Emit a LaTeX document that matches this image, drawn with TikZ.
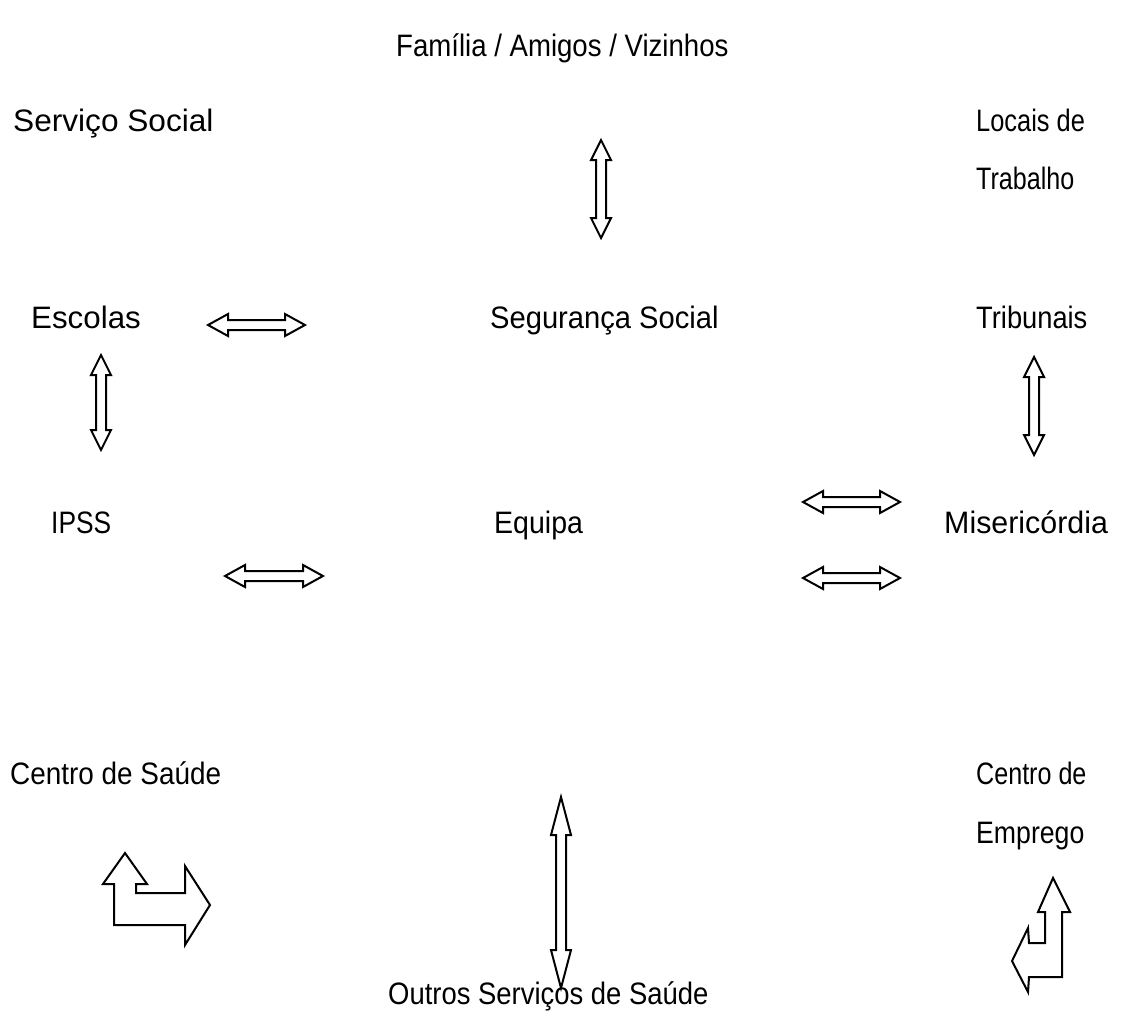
\documentclass[tikz,border=0pt]{standalone}
\usepackage{fontspec}
\setmainfont{Liberation Sans}
\usepackage{tikz}

% text squeezed sideways as in the scan
\newcommand{\squeezed}[2]{\scalebox{#1}[1]{#2}}

% block arrows: \dblarrowh{x1}{x2}{y}, \dblarrowv{x}{y1}{y2}{head}
\newcommand{\dblarrowh}[3]{%
  \draw[blockarrow] (#1,#3) -- (#1+20,#3-11) -- (#1+20,#3-5) -- (#2-20,#3-5) -- (#2-20,#3-11)
    -- (#2,#3) -- (#2-20,#3+11) -- (#2-20,#3+5) -- (#1+20,#3+5) -- (#1+20,#3+11) -- cycle;}
\newcommand{\dblarrowv}[4]{%
  \draw[blockarrow] (#1,#2) -- (#1-10,#2+#4) -- (#1-5,#2+#4) -- (#1-5,#3-#4) -- (#1-10,#3-#4)
    -- (#1,#3) -- (#1+10,#3-#4) -- (#1+5,#3-#4) -- (#1+5,#2+#4) -- (#1+10,#2+#4) -- cycle;}

\begin{document}
\begin{tikzpicture}[x=1pt,y=-1pt,
    txt/.style={anchor=base west, inner sep=0pt, font=\fontsize{31}{31}\selectfont},
    blockarrow/.style={line width=2pt, line join=miter}]
  \useasboundingbox (0,0) rectangle (1126,1018);

  % Labels
  \node[txt] (familia) at (396,56) {\squeezed{0.89}{Família / Amigos / Vizinhos}};
  \node[txt] (servico) at (13,131) {\squeezed{1.02}{Serviço Social}};
  \node[txt] (locais) at (976,131) {\squeezed{0.82}{Locais de}};
  \node[txt] (trabalho) at (976,189) {\squeezed{0.81}{Trabalho}};
  \node[txt] (escolas) at (31,328) {\squeezed{1.01}{Escolas}};
  \node[txt] (seguranca) at (490,328) {\squeezed{0.94}{Segurança Social}};
  \node[txt] (tribunais) at (976,328) {\squeezed{0.88}{Tribunais}};
  \node[txt] (ipss) at (51,533) {\squeezed{0.85}{IPSS}};
  \node[txt] (equipa) at (494,533) {\squeezed{0.92}{Equipa}};
  \node[txt] (misericordia) at (944,533) {\squeezed{0.98}{Misericórdia}};
  \node[txt] (saude) at (10,784) {\squeezed{0.9}{Centro de Saúde}};
  \node[txt] (centro) at (976,784) {\squeezed{0.81}{Centro de}};
  \node[txt] (emprego) at (976,843) {\squeezed{0.86}{Emprego}};
  \node[txt] (outros) at (388,1004) {\squeezed{0.885}{Outros Serviços de Saúde}};

  % Double arrows
  \dblarrowv{601}{140}{238}{20}
  \dblarrowh{208}{305}{325}
  \dblarrowv{101}{355}{450}{20}
  \dblarrowv{1034}{357}{455}{20}
  \dblarrowh{803}{900}{502}
  \dblarrowh{803}{900}{578}
  \dblarrowh{225}{323}{576}
  \dblarrowv{561}{797}{988}{38}

  % Bent arrow (Centro de Saude)
  \draw[blockarrow] (125,853) -- (147,884) -- (136,884) -- (136,893) -- (185,893) -- (185,866)
    -- (210,905) -- (185,945) -- (185,925) -- (114,925) -- (114,884) -- (103,884) -- cycle;

  % Bent arrow (Centro de Emprego)
  \draw[blockarrow] (1053,878) -- (1070,912) -- (1062,912) -- (1062,977) -- (1029,977) -- (1028,992)
    -- (1012,961) -- (1028,928) -- (1029,943) -- (1045,943) -- (1045,912) -- (1038,912) -- cycle;
\end{tikzpicture}
\end{document}
